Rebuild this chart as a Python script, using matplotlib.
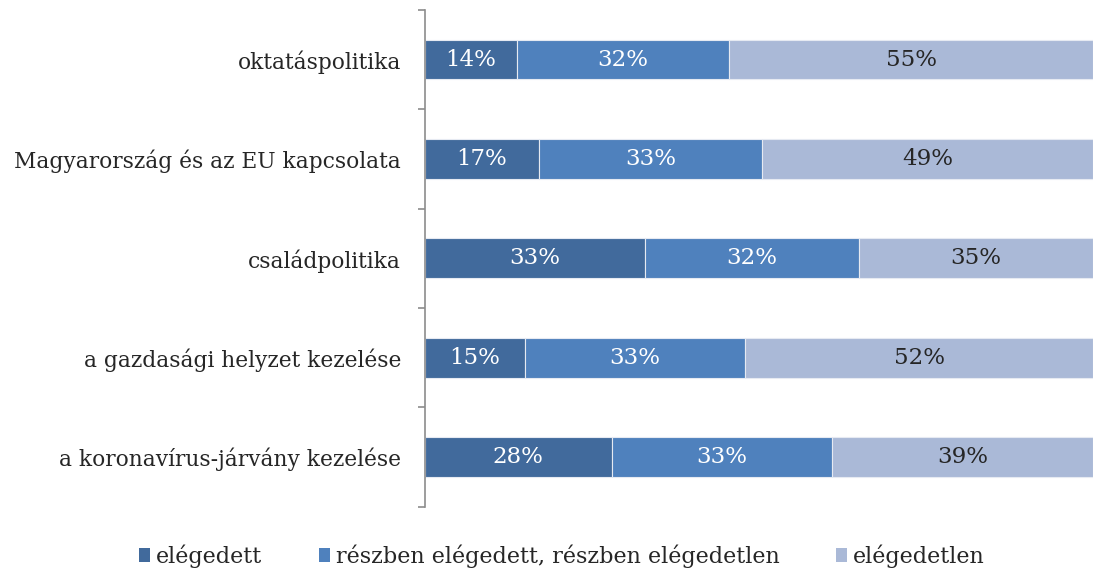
import matplotlib
matplotlib.use("Agg")
import matplotlib.pyplot as plt
from matplotlib.patches import Patch
from matplotlib.ticker import FixedLocator
import numpy as np

categories = ["oktatáspolitika", "Magyarország és az EU kapcsolata", "családpolitika",
              "a gazdasági helyzet kezelése", "a koronavírus-járvány kezelése"]
series_names = ["elégedett", "részben elégedett, részben elégedetlen", "elégedetlen"]
elegedett = [14, 17, 33, 15, 28]
reszben = [32, 33, 32, 33, 33]
elegedetlen = [55, 49, 35, 52, 39]

colors = ["#416A9C", "#4F81BD", "#AAB9D7"]
text_colors = ["white", "white", "#262626"]

plt.rcParams['font.family'] = ['DejaVu Serif']

fig = plt.figure(figsize=(10.93, 5.76), dpi=100)
ax = fig.add_axes([0.3885, 0.12, 0.6115, 0.863])

data = np.array([elegedett, reszben, elegedetlen], dtype=float)
totals = data.sum(axis=0)
shares = data / totals * 100
y = np.arange(len(categories))
left = np.zeros(len(categories))
for i in range(3):
    ax.barh(y, shares[i], left=left, height=0.4, color=colors[i],
            edgecolor="#E6EAF2", linewidth=0.8)
    for j in range(len(categories)):
        ax.text(left[j] + shares[i][j] / 2, y[j], f"{int(data[i][j])}%",
                ha="center", va="center", color=text_colors[i], fontsize=16.5)
    left += shares[i]

ax.set_xlim(0, 100)
ax.set_ylim(len(categories) - 0.5, -0.5)
ax.set_yticks(y)
ax.set_yticklabels(categories, fontsize=15.7, color="#262626")
ax.tick_params(axis="y", which="major", length=0, pad=17)
ax.yaxis.set_minor_locator(FixedLocator(np.arange(-0.5, len(categories), 1.0)))
ax.tick_params(axis="y", which="minor", length=5, width=1.2, color="#8C8C8C", direction="out")
ax.set_xticks([])
for s in ["top", "right", "bottom"]:
    ax.spines[s].set_visible(False)
ax.spines["left"].set_color("#8C8C8C")
ax.spines["left"].set_linewidth(1.2)

handles = [Patch(facecolor=c, edgecolor="none") for c in colors]
fig.legend(handles, series_names, loc="center", bbox_to_anchor=(0.514, 0.035),
           ncol=3, frameon=False, fontsize=16, handlelength=0.5, handleheight=0.6,
           handletextpad=0.25, columnspacing=2.55, labelcolor="#262626")

fig.savefig("out.png", dpi=100)
